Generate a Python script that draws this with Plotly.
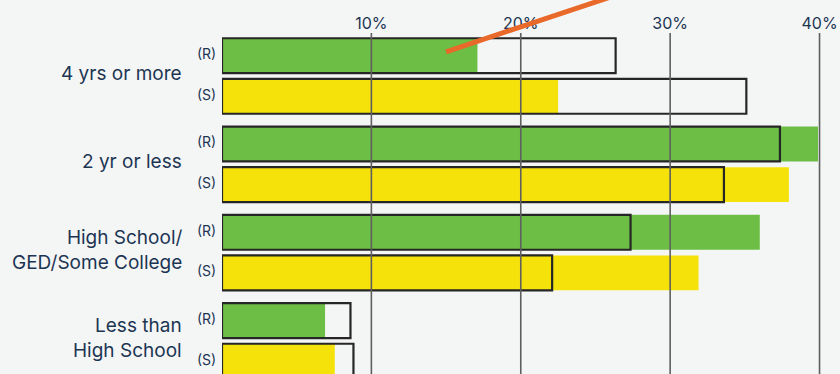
import plotly.graph_objects as go

categories = ["4 yrs or more", "2 yr or less", "High School/<br>GED/Some College", "Less than<br>High School"]
sub_labels = ["(R)", "(S)"]
r_fill = [17.1, 39.9, 36.0, 6.9]
r_outline = [26.35, 37.35, 27.35, 8.6]
s_fill = [22.5, 37.95, 31.9, 7.55]
s_outline = [35.1, 33.6, 22.1, 8.8]
tick_vals = [10, 20, 30, 40]
tick_text = ["10%", "20%", "30%", "40%"]
pointer_x = [15, 27]

GREEN = "#6CBE45"
YELLOW = "#F5E20B"
BG = "#F4F6F5"
TEXT = "#1C3553"
GROUP_STEP = 2.175
BAR_W = 0.86

y_r = [g * GROUP_STEP for g in range(len(categories))]
y_s = [g * GROUP_STEP + 1 for g in range(len(categories))]

fig = go.Figure()
fig.add_trace(go.Bar(x=r_fill, y=y_r, orientation="h", width=BAR_W,
                     marker=dict(color=GREEN, line=dict(width=0))))
fig.add_trace(go.Bar(x=s_fill, y=y_s, orientation="h", width=BAR_W,
                     marker=dict(color=YELLOW, line=dict(width=0))))
fig.add_trace(go.Bar(x=r_outline, y=y_r, orientation="h", width=BAR_W,
                     marker=dict(color="rgba(0,0,0,0)", line=dict(color="#262626", width=2.2))))
fig.add_trace(go.Bar(x=s_outline, y=y_s, orientation="h", width=BAR_W,
                     marker=dict(color="rgba(0,0,0,0)", line=dict(color="#262626", width=2.2))))

# gridlines above bars
for v in tick_vals:
    fig.add_shape(type="line", xref="x", yref="paper", x0=v, x1=v, y0=0, y1=1,
                  line=dict(color="#5f5f5f", width=1.6), layer="above")

# category labels
for g, cat in enumerate(categories):
    fig.add_annotation(x=0, xref="paper", xshift=-38, y=g * GROUP_STEP + 0.43, yref="y",
                       text=cat, showarrow=False, xanchor="right", yanchor="middle",
                       align="right", font=dict(size=19, color=TEXT, family="Inter"))
    for k, lab in enumerate(sub_labels):
        fig.add_annotation(x=0, xref="paper", xshift=-4, y=g * GROUP_STEP + k - 0.05, yref="y",
                           text=lab, showarrow=False, xanchor="right", yanchor="middle",
                           font=dict(size=14, color=TEXT, family="Inter"))

# orange pointer line
fig.add_shape(type="line", xref="x", yref="paper", x0=pointer_x[0], x1=pointer_x[1],
              y0=0.945, y1=1.12, line=dict(color="#E8692A", width=5), layer="above")

fig.update_layout(
    width=840, height=374,
    margin=dict(l=222, r=0, t=33, b=0),
    paper_bgcolor=BG, plot_bgcolor=BG,
    barmode="overlay", showlegend=False,
    xaxis=dict(range=[0, 41.37], side="top", tickvals=tick_vals, ticktext=tick_text,
               showgrid=False, zeroline=False, showline=False, ticks="",
               tickfont=dict(size=16, color=TEXT, family="Inter")),
    yaxis=dict(range=[7.84, -0.559], showticklabels=False, showgrid=False,
               zeroline=False, showline=False),
)

fig.write_html("out.html")
